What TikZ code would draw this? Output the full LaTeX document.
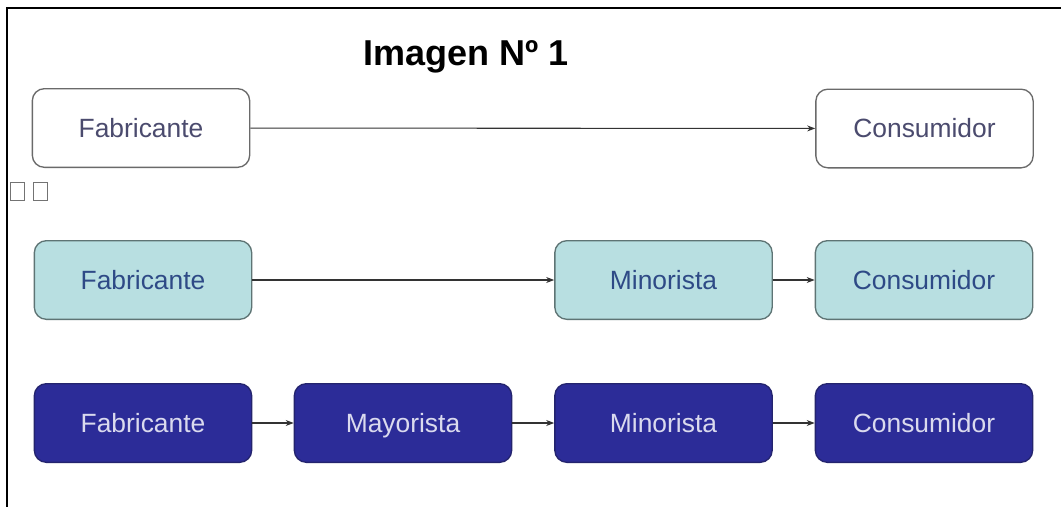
\documentclass[tikz,border=0pt]{standalone}
\usepackage{fontspec}
\setmainfont{Liberation Sans}
\usetikzlibrary{arrows.meta}
\definecolor{wtext}{HTML}{4B4B6E}
\definecolor{wborder}{HTML}{6A6A6A}
\definecolor{cfill}{HTML}{B8DFE1}
\definecolor{cborder}{HTML}{5E7474}
\definecolor{ctext}{HTML}{2E4A86}
\definecolor{dfill}{HTML}{2C2C98}
\definecolor{dborder}{HTML}{24246E}
\definecolor{dtext}{HTML}{DADAEE}
\tikzset{
  box/.style={rectangle, rounded corners=9pt, line width=1pt,
    minimum width=163pt, minimum height=59pt, inner sep=0pt,
    text height=14pt, text depth=0pt,
    font=\fontsize{19.8}{23}\selectfont},
  wbox/.style={box, draw=wborder, fill=white, text=wtext},
  cbox/.style={box, draw=cborder, fill=cfill, text=ctext},
  dbox/.style={box, draw=dborder, fill=dfill, text=dtext},
  conn/.style={-{Stealth[length=6pt,width=4.5pt]}, line width=0.8pt, draw=black!80},
  sq/.style={draw=black!55, line width=0.6pt, fill=white, minimum width=10.5pt, minimum height=13.5pt, inner sep=0pt}
}
\begin{document}
\begin{tikzpicture}[x=0.75pt, y=-0.75pt]
\useasboundingbox (0,0) rectangle (1061,507);
\fill[white] (0,0) rectangle (1061,507);
% frame
\coordinate (fb) at (7,507);
\coordinate (fc) at (7,8);
\coordinate (fr) at (1061,8);
\draw[line width=1.5pt] (fb) -- (fc) -- (fr);
% title
\node[font=\bfseries\fontsize{27}{32}\selectfont, anchor=base] (title) at (466,65) {Imagen Nº 1};
% small squares
\node[sq] (s1) at (17,191) {};
\node[sq] (s2) at (40,191) {};
% row 1
\node[wbox] (f1) at (141,128) {Fabricante};
\node[wbox] (c1) at (924.5,128.5) {Consumidor};
\draw[conn] (f1) -- (c1);
% row 2
\node[cbox] (f2) at (143,280) {Fabricante};
\node[cbox] (m2) at (663.5,280) {Minorista};
\node[cbox] (c2) at (924,280) {Consumidor};
\draw[conn] (f2) -- (m2);
\draw[conn] (m2) -- (c2);
% row 3
\node[dbox] (f3) at (143,423) {Fabricante};
\node[dbox] (y3) at (403,423) {Mayorista};
\node[dbox] (m3) at (663.5,423) {Minorista};
\node[dbox] (c3) at (924,423) {Consumidor};
\draw[conn] (f3) -- (y3);
\draw[conn] (y3) -- (m3);
\draw[conn] (m3) -- (c3);
\end{tikzpicture}
\end{document}
